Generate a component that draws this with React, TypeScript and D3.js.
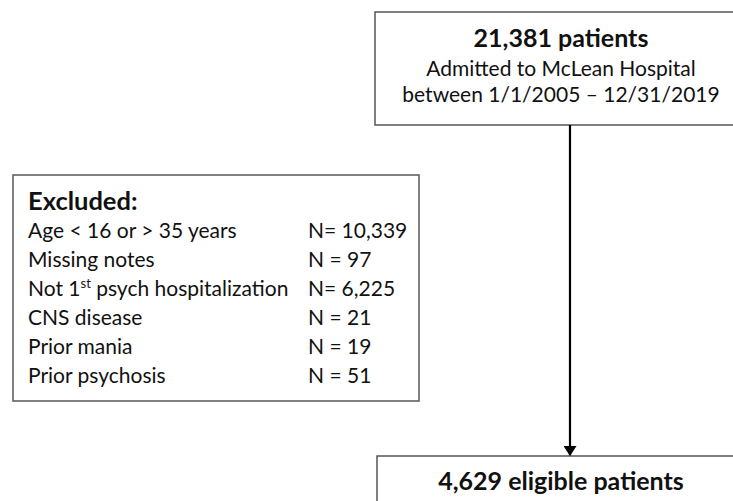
import React, { useMemo } from 'react';
import * as d3 from 'd3';

const topTitle = '21,381 patients';
const topLines = ['Admitted to McLean Hospital', 'between 1/1/2005 – 12/31/2019'];
const excludedTitle = 'Excluded:';
const exclusionLabels = [
  'Age < 16 or > 35 years',
  'Missing notes',
  'Not 1st psych hospitalization',
  'CNS disease',
  'Prior mania',
  'Prior psychosis',
];
const exclusionCounts = ['N= 10,339', 'N = 97', 'N= 6,225', 'N = 21', 'N = 19', 'N = 51'];
const finalTitle = '4,629 eligible patients';

const W = 733;
const H = 501;
const FONT = 'Lato, "Noto Sans", sans-serif';
const BORDER = '#555';

const renderLabel = (label: string) => {
  // superscript for "1st"
  const m = label.match(/^(.*?\d)(st)(.*)$/);
  if (!m) return label;
  return (
    <>
      {m[1]}
      <tspan fontSize={13} dy={-8}>{m[2]}</tspan>
      <tspan dy={8}>{m[3]}</tspan>
    </>
  );
};

const App: React.FC = () => {
  const rowY = useMemo(
    () =>
      d3.scalePoint<number>()
        .domain(d3.range(exclusionLabels.length))
        .range([238, 383]),
    []
  );

  const arrowX = 570;
  const topBox = { x: 375, y: 12, w: 370, h: 113 };
  const exBox = { x: 13, y: 175, w: 406, h: 226 };
  const finalBox = { x: 377, y: 456, w: 370, h: 60 };
  const textCx = 561;

  return (
    <svg
      width={W}
      height={H}
      style={{ position: 'absolute', left: 0, top: 0, background: '#fff' }}
      fontFamily={FONT}
    >
      <defs>
        <marker id="arrowHead" viewBox="0 0 10 13" refX="10" refY="6.5"
          markerWidth="10" markerHeight="13" markerUnits="userSpaceOnUse" orient="auto">
          <path d="M0,0 L10,6.5 L0,13 Z" fill="#000" />
        </marker>
      </defs>

      {/* top box */}
      <rect x={topBox.x} y={topBox.y} width={topBox.w} height={topBox.h}
        fill="#fff" stroke={BORDER} strokeWidth={1.5} />
      <text x={textCx} y={47} textAnchor="middle" fontSize={25} fontWeight="bold" fill="#111">
        {topTitle}
      </text>
      {topLines.map((t, i) => (
        <text key={t} x={textCx} y={76 + i * 26} textAnchor="middle" fontSize={21} fill="#111">
          {t}
        </text>
      ))}

      {/* arrow */}
      <line x1={arrowX} y1={topBox.y + topBox.h} x2={arrowX} y2={finalBox.y}
        stroke="#000" strokeWidth={2.2} markerEnd="url(#arrowHead)" />

      {/* excluded box */}
      <rect x={exBox.x} y={exBox.y} width={exBox.w} height={exBox.h}
        fill="#fff" stroke={BORDER} strokeWidth={1.5} />
      <text x={28} y={210} fontSize={25.5} fontWeight="bold" fill="#111">{excludedTitle}</text>
      {exclusionLabels.map((label, i) => (
        <g key={label}>
          <text x={28} y={rowY(i)} fontSize={21} fill="#111">{renderLabel(label)}</text>
          <text x={308} y={rowY(i)} fontSize={21} fill="#111">{exclusionCounts[i]}</text>
        </g>
      ))}

      {/* final box */}
      <rect x={finalBox.x} y={finalBox.y} width={finalBox.w} height={finalBox.h}
        fill="#fff" stroke={BORDER} strokeWidth={1.5} />
      <text x={textCx} y={490} textAnchor="middle" fontSize={25} fontWeight="bold" fill="#111">
        {finalTitle}
      </text>
    </svg>
  );
};

export default App;
